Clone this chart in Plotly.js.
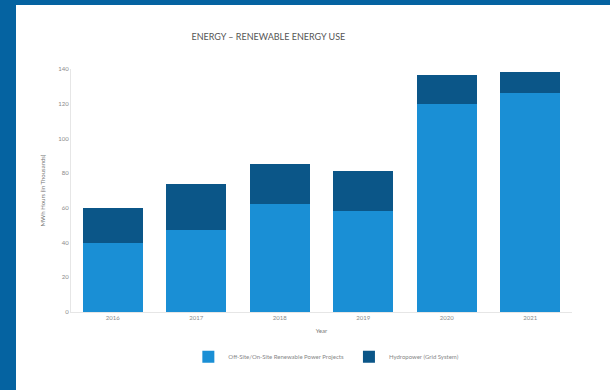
<!DOCTYPE html>
<html>
<head>
<meta charset="utf-8">
<script src="https://cdn.plot.ly/plotly-3.0.1.min.js"></script>
<style>
  html, body { margin: 0; padding: 0; width: 610px; height: 390px; overflow: hidden; background: #0563a1; }
  #panel { position: absolute; left: 16px; top: 5px; width: 594px; height: 385px; background: #ffffff; }
  #chart { position: absolute; left: 0; top: 0; width: 610px; height: 390px; }
</style>
</head>
<body>
<div id="panel"></div>
<div id="chart"></div>
<script>
const years = ["2016", "2017", "2018", "2019", "2020", "2021"];
const projectsValues = [40, 47.5, 62.5, 58, 120, 126];
const gridValues = [20, 26, 23, 23.5, 16.5, 12];
const yTicks = [0, 20, 40, 60, 80, 100, 120, 140];
const seriesNames = ["Off-Site/On-Site Renewable Power Projects", "Hydropower (Grid System)"];

const tickFont = { family: "Lato, 'Open Sans', sans-serif", size: 6, color: "#8a8a8a" };

const data = [
  { type: "bar", name: seriesNames[0], x: years, y: projectsValues, marker: { color: "#1a8fd5" } },
  { type: "bar", name: seriesNames[1], x: years, y: gridValues, marker: { color: "#0b5688" } }
];

const layout = {
  width: 610, height: 390,
  paper_bgcolor: "rgba(0,0,0,0)", plot_bgcolor: "rgba(0,0,0,0)",
  barmode: "stack", bargap: 0.28,
  margin: { l: 71, r: 38, t: 69, b: 78 },
  title: { text: "ENERGY – RENEWABLE ENERGY USE", x: 0.44, xanchor: "center", y: 0.905, yanchor: "middle",
           font: { family: "Lato, 'Open Sans', sans-serif", size: 9, color: "#555555" } },
  xaxis: {
    type: "category", tickfont: tickFont, showline: true, linecolor: "#e6e6e6", linewidth: 1,
    ticks: "", showgrid: false, zeroline: false, automargin: false,
    title: { text: "Year", font: { family: "Lato, 'Open Sans', sans-serif", size: 6, color: "#777777" }, standoff: 8 }
  },
  yaxis: {
    range: [0, 140], tickvals: yTicks, ticktext: yTicks.map(String), tickfont: tickFont, automargin: false,
    showline: true, linecolor: "#e6e6e6", linewidth: 1, showgrid: false, zeroline: false, ticks: "",
    title: { text: "MWh Hours (in Thousands)", font: { family: "Lato, 'Open Sans', sans-serif", size: 6, color: "#777777" }, standoff: 12 }
  },
  showlegend: true,
  legend: { orientation: "h", xref: "container", yref: "container", x: 0.535, xanchor: "center", y: 0.085, yanchor: "middle",
            font: { family: "Lato, 'Open Sans', sans-serif", size: 6, color: "#888888" },
            itemwidth: 30, traceorder: "normal" }
};

Plotly.newPlot("chart", data, layout, { displayModeBar: false, staticPlot: true });
</script>
</body>
</html>
